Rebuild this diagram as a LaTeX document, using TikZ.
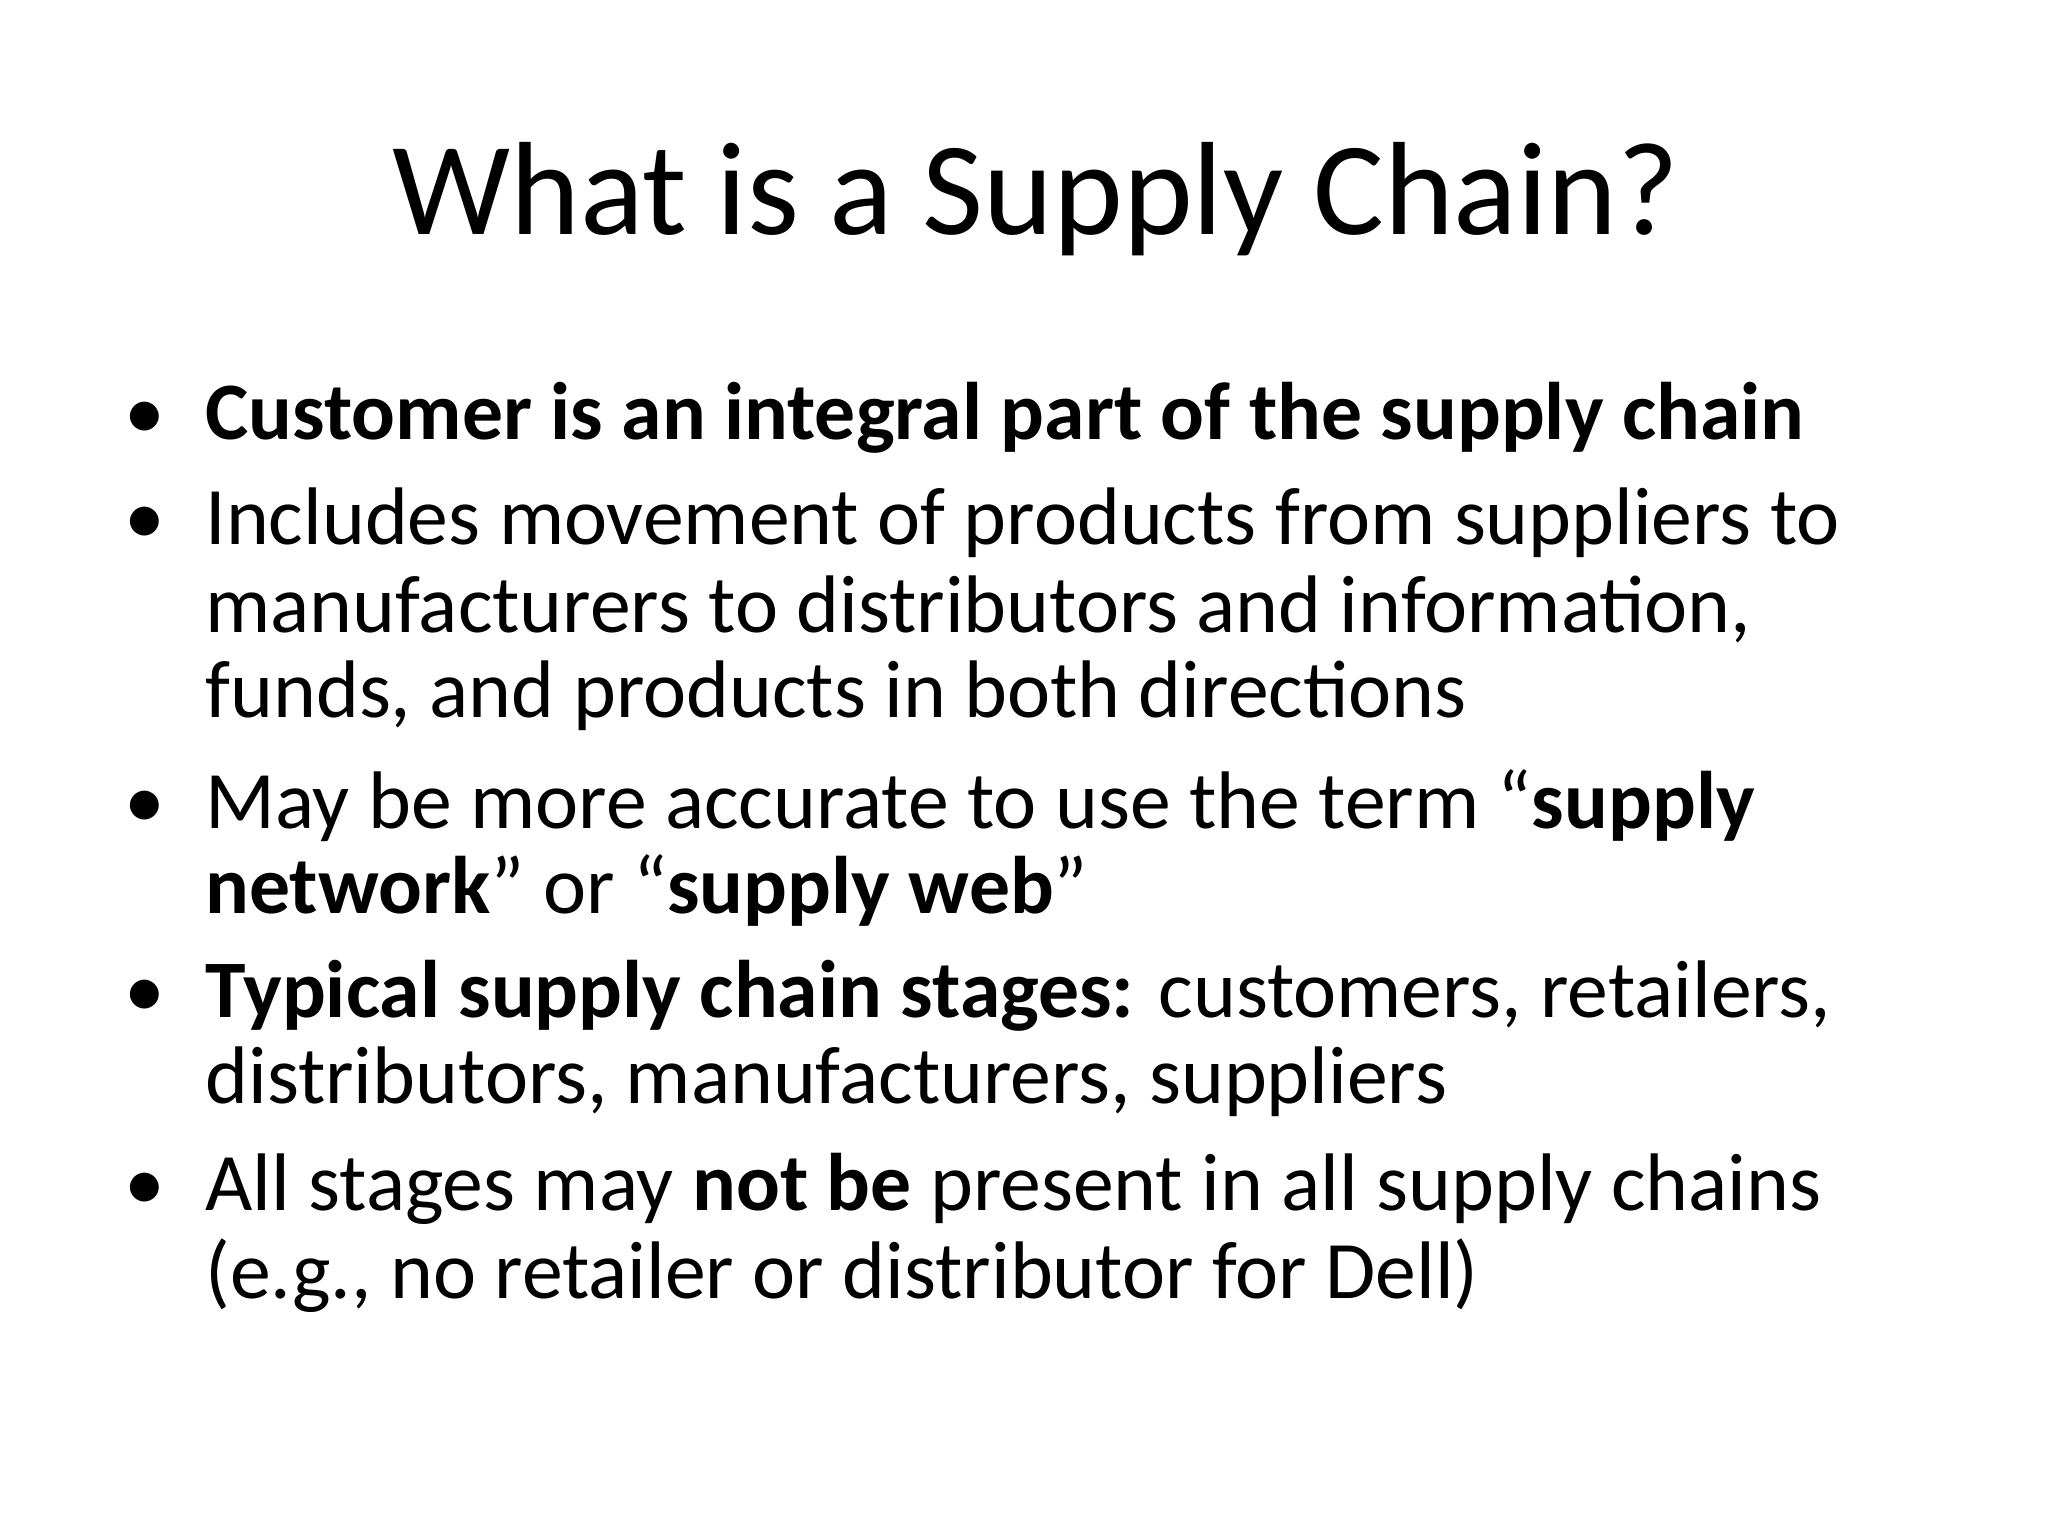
\documentclass[tikz,border=0pt]{standalone}
\usepackage{fontspec}
\setmainfont{Carlito}
\begin{document}
\begin{tikzpicture}[x=0.01cm,y=-0.01cm,
  ln/.style={anchor=base west,inner sep=0pt,font=\fontsize{17.6}{20}\selectfont},
  bul/.style={anchor=base,inner sep=0pt,font=\fontsize{17.6}{20}\selectfont}]
\useasboundingbox (0,0) rectangle (1552,1164);
\node[anchor=base,inner sep=0pt,font=\fontsize{28.6}{32}\selectfont] (title) at (785,178) {What is a Supply Chain?};
\node[bul] (b1) at (110,333) {•};
\node[ln] (l1) at (155,333) {\textbf{Customer is an integral part of the supply chain}};
\node[bul] (b2) at (110,413) {•};
\node[ln] (l2) at (155,413) {Includes movement of products from suppliers to};
\node[ln] (l3) at (155,479) {manufacturers to distributors and information,};
\node[ln] (l4) at (155,544) {funds, and products in both directions};
\node[bul] (b3) at (110,628) {•};
\node[ln] (l5) at (155,628) {May be more accurate to use the term “\textbf{supply}};
\node[ln] (l6) at (155,692) {\textbf{network}” or “\textbf{supply web}”};
\node[bul] (b4) at (110,771) {•};
\node[ln] (l7) at (155,771) {\textbf{Typical supply chain stages:} customers, retailers,};
\node[ln] (l8) at (155,836) {distributors, manufacturers, suppliers};
\node[bul] (b5) at (110,917) {•};
\node[ln] (l9) at (155,917) {All stages may \textbf{not be} present in all supply chains};
\node[ln] (l10) at (155,984) {(e.g., no retailer or distributor for Dell)};
\end{tikzpicture}
\end{document}
